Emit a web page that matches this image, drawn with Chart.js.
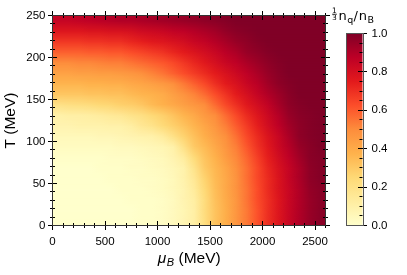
<!DOCTYPE html>
<html>
<head>
<meta charset="utf-8">
<script src="https://cdn.jsdelivr.net/npm/chart.js@4.4.1/dist/chart.umd.min.js"></script>
<style>
  html, body { margin: 0; padding: 0; background: #fff; }
  #wrap { position: relative; width: 407px; height: 275px; }
  #wrap canvas { position: absolute; left: 0; top: 0; }
</style>
</head>
<body>
<div id="wrap">
  <canvas id="heat" width="407" height="275"></canvas>
  <canvas id="cbar" width="407" height="275"></canvas>
</div>
<script>
// cell centres (MeV)
const muCenters = [50,150,250,350,450,550,650,750,850,950,1050,1150,1250,1350,1450,1550,1650,1750,1850,1950,2050,2150,2250,2350,2450,2550];
const tCenters = [6.25,18.75,31.25,43.75,56.25,68.75,81.25,93.75,106.25,118.75,131.25,143.75,156.25,168.75,181.25,193.75,206.25,218.75,231.25,243.75];

// (1/3) n_q / n_B, one row per T (bottom row first)
const nqRatio = [
  [0,0,0,0,0,0,0,0,0.01,0.01,0.02,0.04,0.07,0.11,0.22,0.32,0.39,0.47,0.54,0.62,0.70,0.77,0.84,0.90,0.95,0.98],
  [0,0,0,0,0,0,0,0,0.01,0.01,0.02,0.04,0.07,0.11,0.23,0.32,0.39,0.47,0.54,0.62,0.70,0.77,0.84,0.90,0.95,0.98],
  [0,0,0,0,0,0,0,0.01,0.01,0.01,0.02,0.04,0.08,0.12,0.23,0.33,0.40,0.47,0.55,0.63,0.70,0.77,0.84,0.90,0.95,0.98],
  [0,0,0,0,0,0,0.01,0.01,0.01,0.02,0.03,0.05,0.08,0.14,0.25,0.34,0.41,0.48,0.55,0.63,0.71,0.78,0.84,0.90,0.96,0.98],
  [0,0,0,0,0,0.01,0.01,0.01,0.02,0.02,0.03,0.05,0.09,0.16,0.27,0.35,0.41,0.48,0.56,0.64,0.71,0.78,0.85,0.91,0.97,0.99],
  [0,0,0,0,0.01,0.01,0.01,0.02,0.02,0.03,0.04,0.06,0.09,0.19,0.30,0.36,0.42,0.49,0.56,0.64,0.72,0.79,0.85,0.91,0.97,0.99],
  [0.01,0.01,0.01,0.01,0.01,0.02,0.02,0.02,0.03,0.04,0.05,0.08,0.13,0.24,0.32,0.38,0.45,0.51,0.58,0.66,0.74,0.81,0.87,0.93,0.98,0.99],
  [0.03,0.03,0.03,0.03,0.03,0.03,0.04,0.04,0.05,0.06,0.07,0.10,0.20,0.30,0.35,0.41,0.47,0.53,0.61,0.69,0.76,0.83,0.89,0.95,0.98,1.0],
  [0.05,0.05,0.05,0.05,0.06,0.06,0.07,0.08,0.09,0.10,0.13,0.20,0.27,0.33,0.39,0.44,0.49,0.56,0.64,0.71,0.78,0.84,0.91,0.97,0.99,1.0],
  [0.08,0.08,0.09,0.09,0.09,0.10,0.10,0.12,0.16,0.19,0.24,0.28,0.32,0.37,0.42,0.47,0.53,0.60,0.67,0.74,0.81,0.87,0.93,0.97,0.99,1.0],
  [0.10,0.11,0.11,0.12,0.13,0.15,0.16,0.19,0.21,0.25,0.28,0.32,0.37,0.41,0.46,0.50,0.57,0.64,0.71,0.77,0.83,0.89,0.95,0.98,0.99,1.0],
  [0.20,0.21,0.22,0.23,0.25,0.26,0.28,0.29,0.31,0.35,0.38,0.41,0.44,0.47,0.50,0.57,0.64,0.70,0.76,0.81,0.86,0.92,0.97,0.99,1.0,1.0],
  [0.31,0.31,0.31,0.32,0.32,0.33,0.33,0.35,0.37,0.38,0.40,0.44,0.48,0.52,0.57,0.63,0.69,0.75,0.80,0.85,0.90,0.94,0.98,1.0,1.0,1.0],
  [0.37,0.37,0.37,0.38,0.38,0.39,0.39,0.41,0.42,0.44,0.46,0.49,0.54,0.59,0.64,0.70,0.75,0.79,0.84,0.88,0.93,0.97,0.99,1.0,1.0,1.0],
  [0.43,0.43,0.44,0.44,0.45,0.45,0.46,0.47,0.49,0.52,0.55,0.59,0.63,0.67,0.71,0.75,0.79,0.83,0.87,0.91,0.95,0.98,1.0,1.0,1.0,1.0],
  [0.50,0.50,0.51,0.51,0.52,0.53,0.53,0.55,0.57,0.59,0.61,0.64,0.68,0.72,0.76,0.80,0.84,0.87,0.91,0.94,0.97,0.99,1.0,1.0,1.0,1.0],
  [0.59,0.59,0.59,0.60,0.60,0.61,0.61,0.63,0.65,0.67,0.69,0.72,0.75,0.78,0.81,0.84,0.88,0.91,0.95,0.97,0.99,1.0,1.0,1.0,1.0,1.0],
  [0.68,0.68,0.68,0.69,0.69,0.70,0.70,0.72,0.74,0.76,0.77,0.79,0.81,0.84,0.86,0.89,0.92,0.95,0.97,0.99,1.0,1.0,1.0,1.0,1.0,1.0],
  [0.77,0.77,0.77,0.78,0.78,0.79,0.79,0.80,0.82,0.83,0.84,0.86,0.87,0.89,0.91,0.93,0.96,0.98,0.99,1.0,1.0,1.0,1.0,1.0,1.0,1.0],
  [0.85,0.85,0.86,0.87,0.88,0.89,0.90,0.90,0.91,0.92,0.93,0.94,0.95,0.96,0.97,0.98,0.99,1.0,1.0,1.0,1.0,1.0,1.0,1.0,1.0,1.0]
];

const xTicks = [0, 500, 1000, 1500, 2000, 2500];
const yTicks = [0, 50, 100, 150, 200, 250];
const cbTicks = [0, 0.2, 0.4, 0.6, 0.8, 1.0];
const xMinorStep = 100;
const yMinorStep = 10;
const cbMinorStep = 0.05;

// matplotlib YlOrRd
const ylorrd = [[255,255,204],[255,237,160],[254,217,118],[254,178,76],[253,141,60],[252,78,42],[227,26,28],[189,0,38],[128,0,38]];

function cmap(v) {
    v = Math.max(0, Math.min(1, v));
    const s = v * 8;
    const i = Math.min(7, Math.floor(s));
    const f = s - i;
    const a = ylorrd[i], b = ylorrd[i + 1];
    const c = a.map((ch, k) => Math.round(ch + (b[k] - ch) * f));
    return 'rgb(' + c.join(',') + ')';
}

const tickFont = { family: 'Liberation Sans', size: 11.5 };
const titleFont = 'Liberation Sans';

const cells = [];
tCenters.forEach((t, i) => {
    muCenters.forEach((mu, j) => cells.push({ x: mu, y: t, v: nqRatio[i][j] }));
});

const crisp = p => Math.round(p - 0.5) + 0.5;

// horizontal gradient through one row of cells
function rowGradient(ctx, x, i) {
    const xl = x.getPixelForValue(x.min), xr = x.getPixelForValue(x.max);
    const g = ctx.createLinearGradient(xl, 0, xr, 0);
    muCenters.forEach((mu, j) => {
        g.addColorStop((x.getPixelForValue(mu) - xl) / (xr - xl), cmap(nqRatio[i][j]));
    });
    return g;
}

const heatPlugin = {
    id: 'heat',
    beforeDatasetsDraw(chart) {
        const { ctx, chartArea: a, scales: { x, y } } = chart;
        const off = document.createElement('canvas');
        off.width = chart.width;
        off.height = chart.height;
        const octx = off.getContext('2d');
        const xl = a.left, w = a.width;
        ctx.save();
        ctx.beginPath();
        ctx.rect(a.left, a.top, a.width, a.height);
        ctx.clip();
        const last = tCenters.length - 1;
        // edge strips
        let yb = y.getPixelForValue(y.min), yt = y.getPixelForValue(tCenters[0]);
        ctx.fillStyle = rowGradient(ctx, x, 0);
        ctx.fillRect(xl, Math.floor(yt), w, Math.ceil(yb) - Math.floor(yt));
        yb = y.getPixelForValue(tCenters[last]); yt = y.getPixelForValue(y.max);
        ctx.fillStyle = rowGradient(ctx, x, last);
        ctx.fillRect(xl, Math.floor(yt), w, Math.ceil(yb) - Math.floor(yt));
        // blend each row into the next one
        for (let i = 0; i < last; i++) {
            const yA = y.getPixelForValue(tCenters[i]);
            const yB = y.getPixelForValue(tCenters[i + 1]);
            const top = Math.floor(yB), h = Math.ceil(yA) - top;
            ctx.fillStyle = rowGradient(ctx, x, i);
            ctx.fillRect(xl, top, w, h);
            octx.globalCompositeOperation = 'source-over';
            octx.clearRect(0, 0, off.width, off.height);
            octx.fillStyle = rowGradient(octx, x, i + 1);
            octx.fillRect(xl, top, w, h);
            octx.globalCompositeOperation = 'destination-in';
            const mask = octx.createLinearGradient(0, yA, 0, yB);
            mask.addColorStop(0, 'rgba(0,0,0,0)');
            mask.addColorStop(1, 'rgba(0,0,0,1)');
            octx.fillStyle = mask;
            octx.fillRect(xl, top, w, h);
            ctx.drawImage(off, 0, 0);
        }
        ctx.restore();
    }
};

const framePlugin = {
    id: 'frame',
    afterDraw(chart) {
        const { ctx, chartArea: a, scales: { x, y } } = chart;
        ctx.save();
        ctx.strokeStyle = '#000';
        ctx.lineWidth = 1;
        ctx.beginPath();
        for (let m = x.min; m <= x.max + 1e-6; m += xMinorStep) {
            const px = crisp(x.getPixelForValue(m));
            const len = xTicks.includes(m) ? 4.5 : 2.5;
            ctx.moveTo(px, a.bottom - len); ctx.lineTo(px, a.bottom + len);
            ctx.moveTo(px, a.top - len); ctx.lineTo(px, a.top + len);
        }
        for (let t = y.min; t <= y.max + 1e-6; t += yMinorStep) {
            const py = crisp(y.getPixelForValue(t));
            const len = yTicks.includes(t) ? 4.5 : 2.5;
            ctx.moveTo(a.left - len, py); ctx.lineTo(a.left + len, py);
            ctx.moveTo(a.right - len, py); ctx.lineTo(a.right + len, py);
        }
        ctx.stroke();
        ctx.strokeStyle = '#333';
        ctx.strokeRect(crisp(a.left), crisp(a.top), Math.round(a.width), Math.round(a.height));

        // x axis title: mu_B (MeV)
        ctx.fillStyle = '#000';
        ctx.textBaseline = 'alphabetic';
        ctx.textAlign = 'left';
        const base = a.bottom + 37.5;
        ctx.font = 'italic 15.5px "' + titleFont + '"';
        const wMu = ctx.measureText('\u03bc').width;
        ctx.font = 'italic 11px "' + titleFont + '"';
        const wB = ctx.measureText('B').width;
        ctx.font = '15.5px "' + titleFont + '"';
        const wRest = ctx.measureText(' (MeV)').width;
        let cx = (a.left + a.right) / 2 - (wMu + wB + wRest) / 2;
        ctx.font = 'italic 15.5px "' + titleFont + '"';
        ctx.fillText('\u03bc', cx, base);
        cx += wMu + 0.5;
        ctx.font = 'italic 11px "' + titleFont + '"';
        ctx.fillText('B', cx, base + 3);
        cx += wB;
        ctx.font = '15.5px "' + titleFont + '"';
        ctx.fillText(' (MeV)', cx, base);
        ctx.restore();
    }
};

new Chart(document.getElementById('heat'), {
    type: 'scatter',
    data: {
        datasets: [{
            label: 'nq/nB',
            data: cells,
            pointRadius: 0,
            pointHoverRadius: 0
        }]
    },
    options: {
        responsive: false,
        animation: false,
        devicePixelRatio: 1,
        events: [],
        layout: { padding: { left: 0, top: 15.5, right: 81.5, bottom: 0 } },
        plugins: { legend: { display: false }, tooltip: { enabled: false } },
        scales: {
            x: {
                type: 'linear',
                min: 0,
                max: 2600,
                afterBuildTicks: s => { s.ticks = xTicks.map(v => ({ value: v })); },
                afterFit: s => { s.height = 49.5; },
                grid: { display: false, drawTicks: false },
                border: { display: false },
                ticks: { font: tickFont, color: '#000', padding: 9, maxRotation: 0, autoSkip: false, callback: v => String(v) }
            },
            y: {
                type: 'linear',
                min: 0,
                max: 250,
                afterBuildTicks: s => { s.ticks = yTicks.map(v => ({ value: v })); },
                afterFit: s => { s.width = 52.5; },
                grid: { display: false, drawTicks: false },
                border: { display: false },
                ticks: { font: tickFont, color: '#000', padding: 7, autoSkip: false, callback: v => String(v) },
                title: {
                    display: true,
                    text: 'T (MeV)',
                    color: '#000',
                    font: { family: titleFont, size: 15.5 },
                    padding: { top: 1, bottom: 0 }
                }
            }
        }
    },
    plugins: [heatPlugin, framePlugin]
});

const cbarPlugin = {
    id: 'cbar',
    beforeDatasetsDraw(chart) {
        const { ctx, chartArea: a, scales: { y } } = chart;
        const y0 = y.getPixelForValue(0), y1 = y.getPixelForValue(1);
        const g = ctx.createLinearGradient(0, y0, 0, y1);
        ylorrd.forEach((c, k) => g.addColorStop(k / (ylorrd.length - 1), 'rgb(' + c.join(',') + ')'));
        ctx.save();
        ctx.fillStyle = g;
        ctx.fillRect(a.left, y1, a.width, y0 - y1);
        ctx.restore();
    },
    afterDraw(chart) {
        const { ctx, chartArea: a, scales: { y } } = chart;
        ctx.save();
        ctx.strokeStyle = '#000';
        ctx.lineWidth = 1;
        ctx.beginPath();
        for (let k = 0; k <= 20; k++) {
            const py = crisp(y.getPixelForValue(k * cbMinorStep));
            if (k % 4 === 0) {
                ctx.moveTo(a.right - 4.5, py); ctx.lineTo(a.right + 4.5, py);
            } else {
                ctx.moveTo(a.right - 3, py); ctx.lineTo(a.right, py);
            }
        }
        ctx.stroke();
        ctx.strokeStyle = '#555';
        ctx.strokeRect(crisp(a.left), crisp(a.top), Math.round(a.width), Math.round(a.height));

        // label: (1/3) n_q / n_B
        ctx.fillStyle = '#000';
        ctx.textBaseline = 'alphabetic';
        ctx.textAlign = 'center';
        const lx = a.left - 11.5;
        const base = a.top - 13.5;
        ctx.font = '7.5px "DejaVu Sans"';
        ctx.fillText('1', lx, base - 7);
        ctx.fillText('3', lx, base);
        ctx.fillRect(lx - 2.5, base - 6.2, 5, 0.7);
        ctx.textAlign = 'left';
        let cx = lx + 4;
        const parts = [['n', 13, 0], ['q', 9.5, 2.5], ['/', 13, 0], ['n', 13, 0], ['B', 9.5, 2.5]];
        parts.forEach(([s, size, drop]) => {
            ctx.font = size + 'px "DejaVu Sans"';
            ctx.fillText(s, cx, base + drop);
            cx += ctx.measureText(s).width + (s === '/' ? 0.8 : 0.4);
        });
        ctx.restore();
    }
};

new Chart(document.getElementById('cbar'), {
    type: 'scatter',
    data: { datasets: [] },
    options: {
        responsive: false,
        animation: false,
        devicePixelRatio: 1,
        events: [],
        layout: { padding: { left: 346, top: 33.5, right: 0, bottom: 49.5 } },
        plugins: { legend: { display: false }, tooltip: { enabled: false } },
        scales: {
            x: { type: 'linear', display: false, min: 0, max: 1 },
            y: {
                type: 'linear',
                position: 'right',
                min: 0,
                max: 1,
                afterBuildTicks: s => { s.ticks = cbTicks.map(v => ({ value: v })); },
                afterFit: s => { s.width = 44.5; },
                grid: { display: false, drawTicks: false },
                border: { display: false },
                ticks: { font: tickFont, color: '#000', padding: 9, autoSkip: false, callback: v => v.toFixed(1) }
            }
        }
    },
    plugins: [cbarPlugin]
});
</script>
</body>
</html>
